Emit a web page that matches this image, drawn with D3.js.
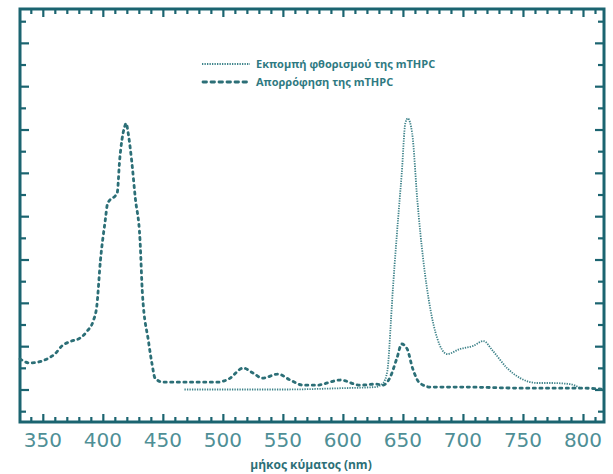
<!DOCTYPE html>
<html><head><meta charset="utf-8">
<script src="https://cdn.jsdelivr.net/npm/d3@7"></script>
<style>body{margin:0;background:#fff}svg{display:block}</style>
</head><body><svg id="c" width="613" height="474"></svg>
<script>
// wavelength (nm) and intensity (a.u.)
const absWl = [331,339,346,353.5,360,366,374,381,387,392,395,398,402,404,412,414,418,419.5,421,424,427,431,433,438,441,443.5,450,481,495,505,517,525,533,546,556,567,578,598,614,628,633,639,645,649,653.5,658,664,673,700,750,800,818];
const absVal = [0.113,0.098,0.101,0.113,0.131,0.161,0.179,0.190,0.216,0.253,0.309,0.476,0.624,0.687,0.727,0.846,0.968,0.983,0.950,0.846,0.709,0.550,0.353,0.179,0.094,0.042,0.027,0.027,0.027,0.039,0.079,0.061,0.042,0.057,0.035,0.016,0.016,0.035,0.016,0.020,0.016,0.042,0.116,0.168,0.150,0.079,0.024,0.009,0.009,0.005,0.005,0.0];
const emWl = [468,500,550,600,627,633.5,637,640,641,645,649,652,654,657.7,662,667,672.7,678.5,687,697.7,708.5,717,725,736.8,747.7,762,772.7,789,797.7];
const emVal = [0.0,0.0,0.0,0.005,0.009,0.024,0.068,0.253,0.327,0.575,0.798,0.983,1.001,0.946,0.698,0.476,0.301,0.190,0.131,0.150,0.161,0.179,0.142,0.079,0.042,0.024,0.024,0.020,0.005];
const xMajor = [350,400,450,500,550,600,650,700,750,800];
const xMinor = d3.range(340, 811, 10);
const yTicks = d3.range(0, 19).map(k => -0.08 + 0.08 * k);
const seriesNames = ["Εκπομπή φθορισμού της mTHPC", "Απορρόφηση της mTHPC"];
const xTitle = "μήκος κύματος (nm)";

const frame = "#1b6470", curveCol = "#2c6f77", labelCol = "#4f8f96";
const L = 20, R = 604, T = 9, B = 422;
const svg = d3.select("#c");
const x = d3.scaleLinear().domain([331, 817.5]).range([L, R]);
const y = d3.scaleLinear().domain([-0.12, 1.405]).range([B, T]);

// ticks
const g = svg.append("g");
function xAxis(axisFn, ty) {
  xMinor.forEach(v => {
    const len = xMajor.includes(v) ? 8 : 5;
    const a = axisFn(x).tickValues([v]).tickSize(-len).tickFormat("");
    const gg = g.append("g").attr("transform", `translate(0,${ty})`).call(a);
    gg.select(".domain").remove();
    gg.selectAll("line").attr("stroke", frame).attr("stroke-width", 2.2);
  });
}
xAxis(d3.axisBottom, B);
xAxis(d3.axisTop, T);
function yAxis(axisFn, tx) {
  yTicks.forEach((v, k) => {
    const len = (k % 2 === 1) ? 9 : 6;
    const a = axisFn(y).tickValues([v]).tickSize(-len).tickFormat("");
    const gg = g.append("g").attr("transform", `translate(${tx},0)`).call(a);
    gg.select(".domain").remove();
    gg.selectAll("line").attr("stroke", frame).attr("stroke-width", 2.2);
  });
}
yAxis(d3.axisLeft, L);
yAxis(d3.axisRight, R);

// frame
svg.append("rect").attr("x", L).attr("y", T).attr("width", R - L).attr("height", B - T)
  .attr("fill", "none").attr("stroke", frame).attr("stroke-width", 3);

// labels
svg.append("g").selectAll("text").data(xMajor).join("text")
  .attr("x", d => x(d)).attr("y", 447).attr("text-anchor", "middle")
  .attr("font-family", "DejaVu Sans, sans-serif").attr("font-size", 20)
  .attr("fill", labelCol).text(d => d);
svg.append("text").attr("x", 311).attr("y", 469).attr("text-anchor", "middle")
  .attr("font-family", "Open Sans, sans-serif").attr("font-weight", 700).attr("font-size", 12)
  .attr("fill", curveCol).text(xTitle);

// curves
const line = d3.line().x(d => x(d[0])).y(d => y(d[1])).curve(d3.curveMonotoneX);
const absData = absWl.map((w, i) => [w, absVal[i]]);
const emData = emWl.map((w, i) => [w, emVal[i]]);
svg.append("path").datum(emData).attr("d", line).attr("fill", "none")
  .attr("stroke", "#3d8289").attr("stroke-width", 1.8).attr("stroke-dasharray", "1.3,1.2");
svg.append("path").datum(absData).attr("d", line).attr("fill", "none")
  .attr("stroke", curveCol).attr("stroke-width", 2.8).attr("stroke-linecap", "round")
  .attr("stroke-dasharray", "2.2,4.4");

// legend
const lg = svg.append("g");
const legY = [64, 82];
lg.append("line").attr("x1", 202).attr("x2", 250).attr("y1", legY[0]).attr("y2", legY[0])
  .attr("stroke", "#3d8289").attr("stroke-width", 1.8).attr("stroke-dasharray", "1.3,1.2");
lg.append("line").attr("x1", 203).attr("x2", 250).attr("y1", legY[1]).attr("y2", legY[1])
  .attr("stroke", curveCol).attr("stroke-width", 2.8).attr("stroke-linecap", "round")
  .attr("stroke-dasharray", "3.5,4.5");
seriesNames.forEach((s, i) => {
  lg.append("text").attr("x", 256).attr("y", legY[i] + 4)
    .attr("font-family", "Open Sans, sans-serif").attr("font-weight", 700).attr("font-size", 11)
    .attr("fill", "#2f7a82").text(s);
});
</script></body></html>
